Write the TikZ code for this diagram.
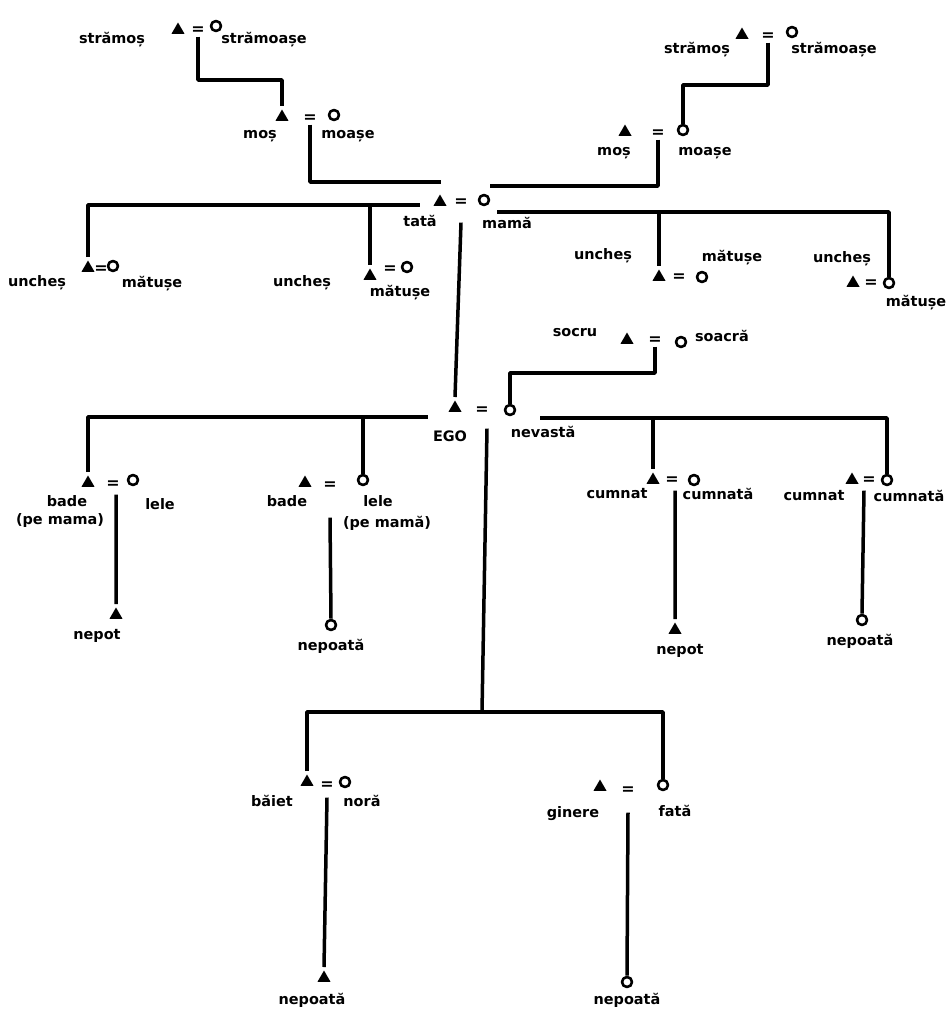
\documentclass[tikz,border=0pt]{standalone}
\usepackage{fontspec}
\setmainfont{DejaVu Sans}
\usetikzlibrary{arrows,shapes.geometric}

\begin{document}
\begin{tikzpicture}[>=latex,line join=bevel,x=1bp,y=-1bp,
  man/.style={regular polygon,regular polygon sides=3,fill=black,inner sep=0pt,minimum size=15bp},
  woman/.style={circle,draw=black,line width=2.6bp,inner sep=0pt,minimum size=10bp},
  wed/.style={inner sep=0pt,font=\bfseries\fontsize{16}{16}\selectfont},
  kin/.style={inner sep=1bp,font=\bfseries\fontsize{14.5}{16}\selectfont}]
  \pgfsetlinewidth{3.5bp}
  \useasboundingbox (0,0) rectangle (951,1011);
%%
  % Node: great-grandparents, left
  \node[man]   (ggfL) at (178,30) {};
  \node[wed]   (ggeL) at (198,31) {=};
  \node[woman] (ggmL) at (216,26) {};
  \node[kin] (ggfLt) at (112,40) {strămoș};
  \node[kin] (ggmLt) at (264,40) {strămoașe};
  % Node: great-grandparents, right
  \node[man]   (ggfR) at (742,35) {};
  \node[wed]   (ggeR) at (768,37) {=};
  \node[woman] (ggmR) at (792,32) {};
  \node[kin] (ggfRt) at (697,50) {strămoș};
  \node[kin] (ggmRt) at (834,50) {strămoașe};
  % Node: grandparents, left
  \node[man]   (gfL) at (282,117) {};
  \node[wed]   (geL) at (310,119) {=};
  \node[woman] (gmL) at (334,115) {};
  \node[kin] (gfLt) at (260,136) {moș};
  \node[kin] (gmLt) at (348,136) {moașe};
  % Node: grandparents, right
  \node[man]   (gfR) at (625,132) {};
  \node[wed]   (geR) at (658,134) {=};
  \node[woman] (gmR) at (683,130) {};
  \node[kin] (gfRt) at (614,153) {moș};
  \node[kin] (gmRt) at (705,153) {moașe};
  % Node: parents
  \node[man]   (tata) at (440,202) {};
  \node[wed]   (eqT)  at (461,203) {=};
  \node[woman] (mama) at (484,200) {};
  \node[kin] (tatat) at (420,221) {tată};
  \node[kin] (mamat) at (507,223) {mamă};
  % Node: uncles and aunts
  \node[man]   (u1m) at (88,268) {};
  \node[wed]   (u1e) at (101,270) {=};
  \node[woman] (u1w) at (113,266) {};
  \node[kin] at (37,283) {uncheș};
  \node[kin] at (152,284) {mătușe};
  \node[man]   (u2m) at (370,276) {};
  \node[wed]   (u2e) at (390,270) {=};
  \node[woman] (u2w) at (407,267) {};
  \node[kin] at (302,283) {uncheș};
  \node[kin] at (400,293) {mătușe};
  \node[man]   (u3m) at (659,277) {};
  \node[wed]   (u3e) at (679,278) {=};
  \node[woman] (u3w) at (702,277) {};
  \node[kin] at (603,256) {uncheș};
  \node[kin] at (732,258) {mătușe};
  \node[man]   (u4m) at (853,283) {};
  \node[wed]   (u4e) at (871,284) {=};
  \node[woman] (u4w) at (889,283) {};
  \node[kin] at (842,259) {uncheș};
  \node[kin] at (916,303) {mătușe};
  % Node: parents-in-law
  \node[man]   (socru)  at (627,340) {};
  \node[wed]   (eqS)    at (655,341) {=};
  \node[woman] (soacra) at (681,342) {};
  \node[kin] at (575,333) {socru};
  \node[kin] at (722,336) {soacră};
  % Node: ego
  \node[man]   (ego)  at (455,408) {};
  \node[wed]   (eqE)  at (482,411) {=};
  \node[woman] (wife) at (510,410) {};
  \node[kin] at (450,436) {EGO};
  \node[kin] at (543,432) {nevastă};
  % Node: siblings and in-laws
  \node[man]   (b1m) at (88,483) {};
  \node[wed]   (b1e) at (113,485) {=};
  \node[woman] (b1w) at (133,480) {};
  \node[kin] at (67,501) {bade};
  \node[kin] at (60,521) {(pe mama)};
  \node[kin] at (160,504) {lele};
  \node[man]   (b2m) at (305,483) {};
  \node[wed]   (b2e) at (330,486) {=};
  \node[woman] (b2w) at (363,480) {};
  \node[kin] at (287,501) {bade};
  \node[kin] at (378,501) {lele};
  \node[kin] at (387,523) {(pe mamă)};
  \node[man]   (c1m) at (653,480) {};
  \node[wed]   (c1e) at (672,481) {=};
  \node[woman] (c1w) at (694,480) {};
  \node[kin] at (617,494) {cumnat};
  \node[kin] at (718,494) {cumnată};
  \node[man]   (c2m) at (852,480) {};
  \node[wed]   (c2e) at (869,481) {=};
  \node[woman] (c2w) at (887,480) {};
  \node[kin] at (814,496) {cumnat};
  \node[kin] at (909,496) {cumnată};
  % Node: nephews and nieces
  \node[man]   (n1) at (116,615) {};
  \node[kin] at (97,636) {nepot};
  \node[woman] (n2) at (331,625) {};
  \node[kin] at (331,646) {nepoată};
  \node[man]   (n3) at (675,630) {};
  \node[kin] at (680,651) {nepot};
  \node[woman] (n4) at (862,620) {};
  \node[kin] at (860,641) {nepoată};
  % Node: children
  \node[man]   (ch1m) at (307,782) {};
  \node[wed]   (ch1e) at (327,786) {=};
  \node[woman] (ch1w) at (345,782) {};
  \node[kin] at (272,801) {băiet};
  \node[kin] at (362,801) {noră};
  \node[man]   (ch2m) at (600,787) {};
  \node[wed]   (ch2e) at (628,791) {=};
  \node[woman] (ch2w) at (663,785) {};
  \node[kin] at (573,814) {ginere};
  \node[kin] at (675,811) {fată};
  % Node: grandchildren
  \node[man]   (g1) at (324,978) {};
  \node[kin] at (312,1000) {nepoată};
  \node[woman] (g2) at (627,982) {};
  \node[kin] at (627,1000) {nepoată};
%%
  \coordinate (jL)  at (240,80);
  \coordinate (jR)  at (725,85);
  \coordinate (jT1) at (441,182);
  \coordinate (jT2) at (490,186);
  \coordinate (sbL) at (420,205);
  \coordinate (sbR) at (497,212);
  \coordinate (jS)  at (585,373);
  \coordinate (ebL) at (428,417);
  \coordinate (ebR) at (540,418);
  \coordinate (chb) at (482,712);
  % Edge: ggeL -> gfL
  \draw (ggeL.south) |- (jL) -| (gfL.north);
  % Edge: ggeR -> gmR
  \draw (ggeR.south) |- (jR) -| (gmR.north);
  % Edge: geL -> tata
  \draw (geL.south) |- (jT1);
  % Edge: geR -> mama
  \draw (geR.south) |- (jT2);
  % Edge: parents -> uncles
  \draw (u1m.north) |- (sbL);
  \draw (u2m.north |- sbL) -- (u2m.north);
  \draw (u4w.north) |- (sbR);
  \draw (u3m.north |- sbR) -- (u3m.north);
  % Edge: eqT -> ego
  \draw ([yshift=-14bp]eqT.south) -- (ego.north);
  % Edge: eqS -> wife
  \draw (eqS.south) |- (jS) -| (wife.north);
  % Edge: ego -> siblings
  \draw (b1m.north) |- (ebL);
  \draw (b2w.north |- ebL) -- (b2w.north);
  \draw (c2w.north) |- (ebR);
  \draw (c1m.north |- ebR) -- (c1m.north);
  % Edge: eqE -> children
  \draw ([xshift=5bp,yshift=-12bp]eqE.south) -- (chb);
  \draw (ch1m.north) |- (chb) -| (ch2w.north);
  % Edge: siblings -> nephews
  \draw ([xshift=3bp,yshift=-4bp]b1e.south) -- (n1.north);
  \draw ([yshift=-26bp]b2e.south) -- (n2.north);
  \draw ([xshift=3bp,yshift=-4bp]c1e.south) -- (n3.north);
  \draw ([xshift=-5bp,yshift=-4bp]c2e.south) -- (n4.north);
  % Edge: children -> grandchildren
  \draw ([yshift=-6bp]ch1e.south) -- (g1.north);
  \draw ([yshift=-16bp]ch2e.south) -- (g2.north);
%
\end{tikzpicture}
\end{document}
